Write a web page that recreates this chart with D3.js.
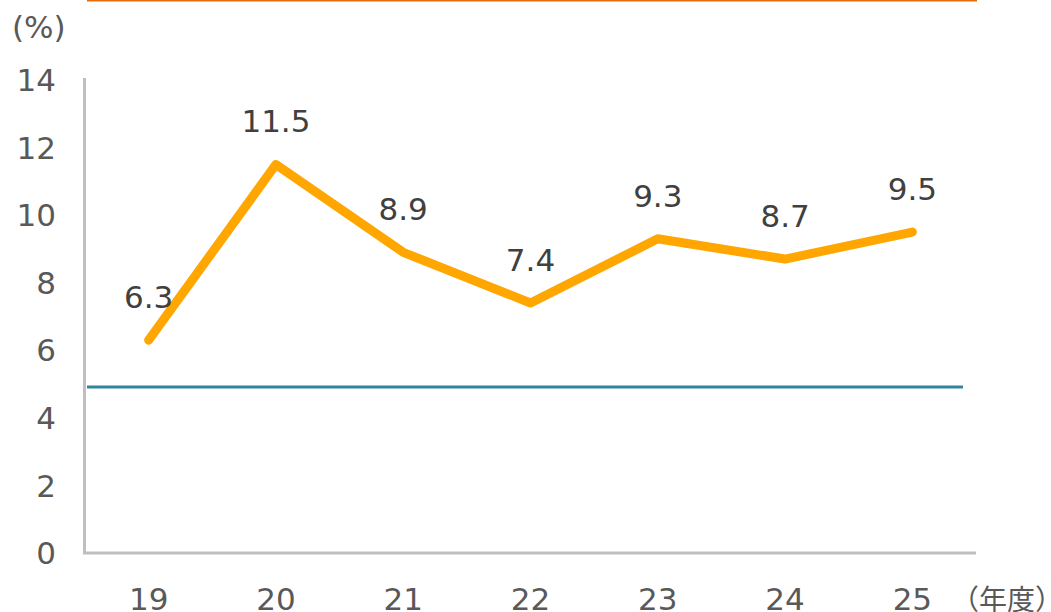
<!DOCTYPE html>
<html>
<head>
<meta charset="utf-8">
<script src="https://cdn.jsdelivr.net/npm/d3@7"></script>
<style>
  body { margin: 0; background: #fff; }
  svg text { font-family: "DejaVu Sans", Verdana, "Noto Sans CJK JP", sans-serif; fill: #595959; }
</style>
</head>
<body>
<svg width="1051" height="612"></svg>
<script>
// data
const years = ["19", "20", "21", "22", "23", "24", "25"];
const rates = [6.3, 11.5, 8.9, 7.4, 9.3, 8.7, 9.5];
const yTicks = [0, 2, 4, 6, 8, 10, 12, 14];
const refLevel = 5;

const lineColor = "#FFA600";
const refColor = "#31859C";
const topColor = "#E46C0A";
const axisColor = "#BFBFBF";

let svg = d3.select("svg");

// ranges
let x = d3.scaleBand().domain(years).range([85, 976]).padding(0);
let y = d3.scaleLinear().domain([0, 14]).range([553, 80]);
const xc = d => x(d) + x.bandwidth() / 2;

// orange rule across the top
svg.append("line")
    .attr("x1", 87).attr("x2", 977)
    .attr("y1", 0.5).attr("y2", 0.5)
    .attr("stroke", topColor)
    .attr("stroke-width", 2);

// y tick labels
svg.append("g")
    .selectAll("text")
    .data(yTicks)
    .enter().append("text")
    .attr("x", 56)
    .attr("y", d => y(d))
    .attr("dy", "0.36em")
    .attr("text-anchor", "end")
    .attr("font-size", 31)
    .text(d => d);

svg.append("text")
    .attr("x", 12)
    .attr("y", 38)
    .attr("font-size", 31)
    .text("(%)");

// axes lines
svg.append("line")
    .attr("x1", 84.5).attr("x2", 84.5)
    .attr("y1", 78).attr("y2", y(0) + 1)
    .attr("stroke", axisColor)
    .attr("stroke-width", 3);
svg.append("line")
    .attr("x1", 83).attr("x2", 976)
    .attr("y1", y(0)).attr("y2", y(0))
    .attr("stroke", axisColor)
    .attr("stroke-width", 3);

// x tick labels
svg.append("g")
    .selectAll("text")
    .data(years)
    .enter().append("text")
    .attr("x", d => xc(d))
    .attr("y", 610)
    .attr("text-anchor", "middle")
    .attr("font-size", 31)
    .text(d => d);

svg.append("text")
    .attr("x", 951)
    .attr("y", 610)
    .attr("font-size", 28)
    .style("font-family", "'Noto Sans CJK JP', sans-serif")
    .text("（年度）");

// reference level
svg.append("line")
    .attr("x1", 87).attr("x2", 963)
    .attr("y1", y(refLevel) + 3).attr("y2", y(refLevel) + 3)
    .attr("stroke", refColor)
    .attr("stroke-width", 3);

// the series
let data = d3.zip(years, rates);
let line = d3.line()
    .x(d => xc(d[0]))
    .y(d => y(d[1]));

svg.append("path")
    .datum(data)
    .attr("fill", "none")
    .attr("stroke", lineColor)
    .attr("stroke-width", 9)
    .attr("stroke-linejoin", "round")
    .attr("stroke-linecap", "round")
    .attr("d", line);

// value labels
svg.append("g")
    .selectAll("text")
    .data(data)
    .enter().append("text")
    .attr("x", d => xc(d[0]))
    .attr("y", d => y(d[1]) - 32)
    .attr("text-anchor", "middle")
    .attr("font-size", 31)
    .style("fill", "#404040")
    .text(d => d[1].toFixed(1));
</script>
</body>
</html>
